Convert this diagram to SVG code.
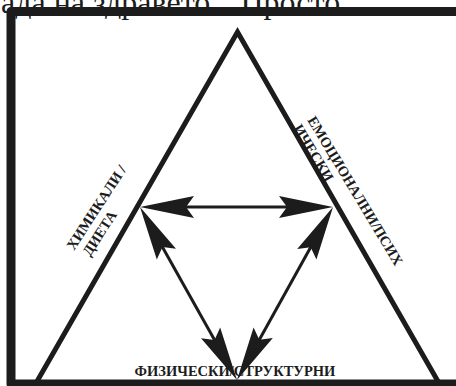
<svg xmlns="http://www.w3.org/2000/svg" width="456" height="386" viewBox="0 0 456 386">
  <style>
    .ink { stroke: #1c1c1c; fill: none; }
    .lbl { font-family: "Liberation Serif", "Times New Roman", serif; font-weight: bold; font-size: 14.5px; fill: #1c1c1c; }
    .top { font-family: "Liberation Serif", "Times New Roman", serif; font-size: 32px; fill: #1c1c1c; }
    .conn { stroke: #1c1c1c; stroke-width: 3; fill: none; marker-start: url(#head); marker-end: url(#head); }
  </style>
  <defs>
    <marker id="head" viewBox="0 0 60 24" refX="50" refY="12" markerWidth="60" markerHeight="24" markerUnits="userSpaceOnUse" orient="auto-start-reverse">
      <path d="M60,12 L6,1 L14,12 L6,23 Z" fill="#1c1c1c"/>
    </marker>
  </defs>
  <rect width="456" height="386" fill="#ffffff"/>
  <text class="top" x="1" y="13">ада на здравето“. Просто</text>
  <g id="frame">
    <rect class="ink" x="11" y="11.5" width="460" height="372.5" stroke-width="9" stroke-linejoin="round"/>
  </g>
  <g id="triangle">
    <polyline class="ink" points="35.5,384 237.5,32 439.5,384" stroke-width="5" stroke-linejoin="miter"/>
  </g>
  <g id="node-chem">
    <text class="lbl" transform="translate(74,251) rotate(-57)">ХИМИКАЛИ /</text>
    <text class="lbl" transform="translate(90,257) rotate(-57)">ДИЕТА</text>
  </g>
  <g id="node-emo">
    <text class="lbl" transform="translate(307,120) rotate(59)">ЕМОЦИОНАЛНИ/ПСИХ</text>
    <text class="lbl" transform="translate(293,128) rotate(59)">ИЧЕСКИ</text>
  </g>
  <g id="node-phys">
    <text class="lbl" x="235" y="376" text-anchor="middle">ФИЗИЧЕСКИ/СТРУКТУРНИ</text>
  </g>
  <g id="connectors">
    <line class="conn" x1="150" y1="207" x2="323" y2="207"/>
    <line class="conn" x1="144.9" y1="215.7" x2="232.1" y2="371.3"/>
    <line class="conn" x1="328.15" y1="215.74" x2="241.85" y2="371.26"/>
  </g>
</svg>
